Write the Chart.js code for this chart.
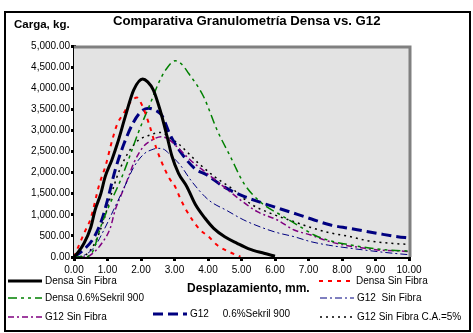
<!DOCTYPE html>
<html>
<head>
<meta charset="utf-8">
<script src="https://cdn.jsdelivr.net/npm/chart.js@4.4.1/dist/chart.umd.min.js"></script>
<style>
  html, body { margin: 0; padding: 0; background: #fff; }
  #wrap { position: relative; width: 473px; height: 333px; overflow: hidden;
          font-family: "Liberation Sans", Arial, sans-serif; color: #000; }
  #frame { position: absolute; left: 4px; top: 11px; width: 467px; height: 321px;
           border: 2px solid #000; box-sizing: border-box; }
  canvas { position: absolute; left: 0; top: 0; }
  .t { position: absolute; white-space: pre; line-height: 14px; }
  .title { font-weight: bold; font-size: 13px; }
  .leg { position: absolute; height: 12px; display: flex; align-items: center; white-space: pre;
         font-size: 10px; line-height: 12px; }
  .leg svg { flex: none; }
</style>
</head>
<body>
<div id="wrap">
  <div id="frame"></div>
  <canvas id="c" width="473" height="333"></canvas>
  <div class="t title" style="left:14px;top:17px;font-size:11.5px;">Carga, kg.</div>
  <div class="t title" style="left:113px;top:14px;font-size:13.2px;">Comparativa Granulometría Densa vs. G12</div>
  <div class="t title" style="left:187px;top:281px;font-size:12px;">Desplazamiento, mm.</div>
  <div id="legend"></div>
</div>
<script>
// Axis tick labels
const xTickLabels = ['0.00','1.00','2.00','3.00','4.00','5.00','6.00','7.00','8.00','9.00','10.00'];
const yTickLabels = ['0.00','500.00','1,000.00','1,500.00','2,000.00','2,500.00','3,000.00','3,500.00','4,000.00','4,500.00','5,000.00'];

// Series names
const seriesNames = [
  'Densa Sin Fibra',
  'Densa Sin Fibra',
  'Densa 0.6%Sekril 900',
  'G12  Sin Fibra',
  'G12 Sin Fibra',
  'G12     0.6%Sekril 900',
  'G12 Sin Fibra C.A.=5%'
];

// Displacement (mm) / load (kg) pairs for each test
const densaSF_x = [0, 0.1, 0.3, 0.5, 0.63, 0.8, 0.93, 1.13, 1.3, 1.53, 1.78, 2.05, 2.2, 2.37, 2.57, 2.78, 2.92, 3.12, 3.37, 3.62, 3.9, 4.17, 4.5, 4.87, 5.2, 5.67, 6.0];
const densaSF_y = [0, 88, 325, 700, 1114, 1500, 1900, 2300, 2700, 3325, 3957, 4220, 4150, 3957, 3483, 2851, 2400, 1983, 1666, 1250, 930, 680, 480, 325, 200, 88, 20];

const densaSF2_x = [0, 0.15, 0.3, 0.5, 0.75, 0.95, 1.1, 1.28, 1.48, 1.7, 1.88, 2.03, 2.25, 2.47, 2.67, 2.85, 3.02, 3.17, 3.32, 3.55, 3.77, 4.02, 4.27, 4.62, 4.97];
const densaSF2_y = [0, 280, 560, 917, 1706, 2180, 2650, 3128, 3405, 3680, 3780, 3600, 3128, 2550, 2150, 1860, 1666, 1391, 1154, 860, 640, 481, 284, 126, 7];

const densaSek_x = [0, 0.3, 0.45, 0.58, 0.8, 1.08, 1.38, 1.6, 1.93, 2.28, 2.52, 2.75, 3.02, 3.2, 3.42, 3.87, 4.27, 4.67, 5.07, 5.6, 6.17, 6.67, 7.17, 7.76, 8.26, 9.16, 9.76, 10];
const densaSek_y = [0, 0, 30, 166, 720, 1272, 1800, 2250, 2969, 3642, 4115, 4450, 4650, 4580, 4353, 3798, 3009, 2377, 1746, 1280, 995, 758, 521, 363, 284, 182, 150, 140];

const g12SF_x = [0, 0.3, 0.6, 0.9, 1.18, 1.5, 1.8, 2.1, 2.3, 2.5, 2.66, 2.9, 3.17, 3.52, 4.02, 4.57, 5.07, 5.67, 6.07, 6.57, 7.07, 7.6, 8.26, 8.66, 9.26, 9.76, 10];
const g12SF_y = [0, 40, 230, 650, 1114, 1650, 2150, 2450, 2535, 2575, 2560, 2400, 2180, 1785, 1350, 1098, 877, 680, 576, 481, 363, 280, 206, 166, 110, 71, 55];

const g12SF2_x = [0, 0.35, 0.55, 0.83, 1.08, 1.23, 1.43, 1.63, 1.78, 2.07, 2.35, 2.6, 2.8, 3.02, 3.47, 3.97, 4.47, 4.97, 5.47, 6.07, 6.57, 7.07, 7.57, 8.06, 8.56, 9.06, 9.56, 10];
const g12SF2_y = [0, 0, 80, 325, 680, 1114, 1509, 1903, 2220, 2614, 2780, 2851, 2800, 2654, 2299, 1983, 1666, 1350, 1074, 877, 640, 521, 379, 284, 221, 166, 150, 130];

const g12Sek_x = [0, 0.28, 0.58, 0.83, 1.0, 1.23, 1.5, 1.78, 2.0, 2.22, 2.45, 2.62, 2.85, 3.1, 3.6, 3.97, 4.47, 5.07, 5.55, 6.17, 6.67, 7.17, 7.66, 8.21, 8.66, 9.16, 9.66, 10];
const g12Sek_y = [0, 166, 442, 880, 1350, 2062, 2700, 3200, 3443, 3523, 3470, 3360, 2930, 2580, 2101, 1943, 1666, 1437, 1300, 1137, 1011, 877, 758, 680, 616, 545, 481, 450];

const g12CA_x = [0, 0.3, 0.6, 0.9, 1.08, 1.38, 1.83, 2.3, 2.6, 2.9, 3.12, 3.72, 4.2, 4.77, 5.27, 5.87, 6.57, 7.07, 7.6, 8.26, 8.76, 9.26, 9.76, 10];
const g12CA_y = [0, 30, 300, 900, 1400, 2100, 2700, 2900, 2950, 2800, 2680, 2220, 1900, 1588, 1260, 1035, 836, 700, 580, 481, 387, 339, 308, 300];

const pts = (xs, ys) => xs.map((x, i) => ({ x: x, y: ys[i] }));

// Line styles per series
const styles = [
  { color: '#000000', width: 3,   dash: [] },
  { color: '#ff0000', width: 2,   dash: [4, 5] },
  { color: '#008000', width: 1.5, dash: [9, 4, 3, 4, 3, 4] },
  { color: '#000080', width: 1,   dash: [7, 3, 2, 3] },
  { color: '#800080', width: 1.5, dash: [6, 3, 2, 3] },
  { color: '#000080', width: 3,   dash: [10, 5] },
  { color: '#000000', width: 1.5, dash: [2, 4] }
];

const seriesData = [
  pts(densaSF_x, densaSF_y),
  pts(densaSF2_x, densaSF2_y),
  pts(densaSek_x, densaSek_y),
  pts(g12SF_x, g12SF_y),
  pts(g12SF2_x, g12SF2_y),
  pts(g12Sek_x, g12Sek_y),
  pts(g12CA_x, g12CA_y)
];

const datasets = seriesData.map((d, i) => ({
  label: seriesNames[i],
  data: d,
  borderColor: styles[i].color,
  borderWidth: styles[i].width,
  borderDash: styles[i].dash,
  pointRadius: 0,
  fill: false,
  cubicInterpolationMode: 'monotone',
  order: i === 0 ? 0 : 1
}));

// Plot background and the grey frame on top / right
const plotFrame = {
  id: 'plotFrame',
  beforeDatasetsDraw(chart) {
    const a = chart.chartArea, ctx = chart.ctx;
    ctx.save();
    ctx.fillStyle = '#e3e3e3';
    ctx.fillRect(a.left, a.top, a.right - a.left, a.bottom - a.top);
    ctx.strokeStyle = '#808080';
    ctx.lineWidth = 3;
    ctx.beginPath();
    ctx.moveTo(a.left, a.top + 1);
    ctx.lineTo(a.right + 1, a.top + 1);
    ctx.lineTo(a.right + 1, a.bottom);
    ctx.stroke();
    ctx.restore();
  }
};

const tickFont = { family: '"Liberation Sans", Arial, sans-serif', size: 10 };

new Chart(document.getElementById('c'), {
  type: 'line',
  data: { datasets: datasets },
  plugins: [plotFrame],
  options: {
    responsive: false,
    animation: false,
    devicePixelRatio: 1,
    layout: { padding: { left: 0, top: 46, right: 64, bottom: 0 } },
    plugins: { legend: { display: false }, tooltip: { enabled: false }, title: { display: false } },
    scales: {
      x: {
        type: 'linear', min: 0, max: 10,
        afterFit(s) { s.height = 76; },
        ticks: { stepSize: 1, color: '#000', font: tickFont, padding: 3, maxRotation: 0,
                 callback: (v, i) => xTickLabels[i] },
        grid: { drawOnChartArea: false, drawTicks: true, tickLength: 4, color: '#000', lineWidth: 3 },
        border: { display: true, color: '#000', width: 3 }
      },
      y: {
        type: 'linear', min: 0, max: 5000,
        afterFit(s) { s.width = 74; },
        ticks: { stepSize: 500, color: '#000', font: tickFont, padding: 1,
                 callback: (v, i) => yTickLabels[i] },
        grid: { drawOnChartArea: false, drawTicks: true, tickLength: 3, color: '#000', lineWidth: 3 },
        border: { display: true, color: '#000', width: 3 }
      }
    }
  }
});

// Legend: three columns, the axis title sits in the middle of the first row
const legendSlots = [
  { s: 0, left: 8,   top: 275 },
  { s: 1, left: 319, top: 275 },
  { s: 2, left: 8,   top: 292 },
  { s: 3, left: 320, top: 292 },
  { s: 4, left: 8,   top: 311 },
  { s: 5, left: 153, top: 308 },
  { s: 6, left: 320, top: 311 }
];
const legend = document.getElementById('legend');
legendSlots.forEach(slot => {
  const st = styles[slot.s];
  const el = document.createElement('div');
  el.className = 'leg';
  el.style.left = slot.left + 'px';
  el.style.top = slot.top + 'px';
  const w = 34;
  el.innerHTML =
    '<svg width="' + w + '" height="12"><line x1="0" y1="6" x2="' + w + '" y2="6" stroke="' + st.color +
    '" stroke-width="' + st.width + '" stroke-dasharray="' + (st.dash.length ? st.dash.join(',') : 'none') +
    '"/></svg><span style="margin-left:3px">' + seriesNames[slot.s] + '</span>';
  legend.appendChild(el);
});
</script>
</body>
</html>
